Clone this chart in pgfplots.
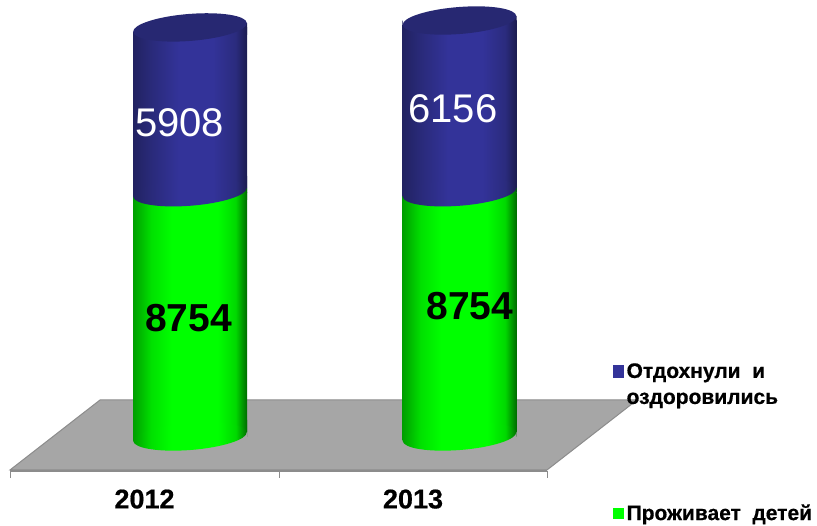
\documentclass[border=0pt]{standalone}
\usepackage{fontspec}
\setmainfont{Liberation Sans}
\newfontfamily\heavy[FakeBold=0.6]{Liberation Sans Bold}
\usepackage{pgfplots}
\pgfplotsset{compat=1.18}
\definecolor{legblue}{HTML}{333399}
\definecolor{leggreen}{HTML}{00FF00}
\definecolor{floorfill}{HTML}{A6A6A6}
\definecolor{flooredge}{HTML}{8C8C8C}
\definecolor{capblue}{HTML}{272872}
\pgfdeclarehorizontalshading{cylgreen}{100bp}{color(0bp)=(green!62!black); color(25bp)=(green!62!black); color(33bp)=(green!88!black); color(42bp)=(green); color(62bp)=(green); color(70bp)=(green!85!black); color(75bp)=(green!42!black); color(100bp)=(green!42!black)}
\pgfdeclarehorizontalshading{cylblue}{100bp}{color(0bp)=(capblue!85!black); color(25bp)=(capblue!85!black); color(33bp)=(capblue!80!legblue); color(45bp)=(legblue); color(60bp)=(legblue); color(70bp)=(capblue!70!legblue); color(75bp)=(capblue!70!black); color(100bp)=(capblue!70!black)}
\pgfplotsset{
  common/.style={
    at={(10pt,55pt)}, anchor=south west,
    scale only axis, width=537pt, height=471pt,
    xmin=10, xmax=547, ymin=-1236.6, ymax=15645,
    clip=false,
    ybar stacked, bar width=114pt,
  },
}
\tikzset{cylend/.style={x radius=57pt, y radius=13.5pt, rotate=4.5}}
% band along the tilted diameter of a cylinder end: {style}{x}{value}{thickness, signed}
\newcommand\tiltband[4]{\path[#1] (axis cs:#2,#3) ++(-57pt,-4.5pt) -- ++(114pt,9pt) -- ++(0pt,#4pt) -- ++(-114pt,-9pt) -- cycle;}
\newcommand\cylinderbands[3]{% x, value at joint, value at top
  \tiltband{fill=floorfill}{#1}{0}{-7}
  \tiltband{shading=cylgreen}{#1}{0}{12}
  \tiltband{shading=cylgreen}{#1}{#2}{-12}
  \tiltband{shading=cylblue}{#1}{#2}{12}
  \tiltband{fill=white}{#1}{#3}{18}
  \tiltband{shading=cylblue}{#1}{#3}{-12}
}
\newcommand\cylinderends[3]{% x, value at joint, value at top
  \path[shading=cylgreen] (axis cs:#1,0) ellipse [cylend];
  \path[shading=cylblue] (axis cs:#1,#2) ellipse [cylend];
  \path[fill=capblue] (axis cs:#1,#3) ellipse [cylend];
}
\begin{document}
\begin{tikzpicture}[x=1pt,y=1pt]
\path[use as bounding box] (0,0) rectangle (817,526);
% floor, axis, legend
\begin{axis}[common,
  axis y line=none, axis x line=bottom,
  axis line style={flooredge, line width=1.6pt, -},
  xtick={144.5,413}, xticklabels={2012,2013},
  major tick length=0pt,
  extra x ticks={10,279,547}, extra x tick labels={},
  extra x tick style={tick style={flooredge, line width=1pt}, major tick length=7pt, tick align=outside},
  xticklabel style={font=\heavy\fontsize{27}{27}\selectfont, yshift=-15pt},
  legend style={at={(axis cs:613,2830)}, anchor=north west, draw=none, fill=none,
    font=\heavy\fontsize{21}{26}\selectfont, row sep=121pt, inner sep=0pt,
    nodes={inner xsep=3pt}},
  legend cell align=left,
]
\addlegendimage{legend image code/.code={\fill[legblue] (0,-8pt) rectangle (10pt,4pt);}}
\addlegendentry{\begin{tabular}[t]{@{}l@{}}Отдохнули\hspace{0.55em}и\\оздоровились\end{tabular}}
\addlegendimage{legend image code/.code={\fill[leggreen] (0,-5pt) rectangle (10pt,5pt);}}
\addlegendentry{Проживает\hspace{0.55em}детей}
\draw[flooredge, line width=1pt, fill=floorfill]
  (axis cs:10,-1200) -- (axis cs:100,1308) -- (axis cs:637,1308) -- (axis cs:547,-1200) -- cycle;
\end{axis}
% 2012
\begin{axis}[common, hide axis]
\addplot+[forget plot, bar shift=0pt, draw=none, shading=cylgreen, shading angle=0]
  coordinates {(190,8754)};
\addplot+[forget plot, bar shift=0pt, draw=none, shading=cylblue, shading angle=0]
  coordinates {(190,5908)};
\end{axis}
% 2013
\begin{axis}[common, hide axis]
\addplot+[forget plot, bar shift=0pt, draw=none, shading=cylgreen, shading angle=0]
  coordinates {(459.5,8754)};
\addplot+[forget plot, bar shift=0pt, draw=none, shading=cylblue, shading angle=0]
  coordinates {(459.5,6156)};
\end{axis}
% tilted joints
\begin{axis}[common, hide axis]
\cylinderbands{190}{8754}{14662}
\cylinderbands{459.5}{8754}{14910}
\end{axis}
% elliptical ends
\begin{axis}[common, hide axis]
\cylinderends{190}{8754}{14662}
\cylinderends{459.5}{8754}{14910}
\end{axis}
% value labels
\begin{axis}[common, hide axis]
\node[white, inner sep=0pt, font=\fontsize{40}{40}\selectfont] at (axis cs:179.5,11237) {5908};
\node[black, inner sep=0pt, font=\bfseries\fontsize{39}{39}\selectfont] at (axis cs:188.5,4247) {8754};
\node[white, inner sep=0pt, font=\fontsize{40}{40}\selectfont] at (axis cs:453,11738) {6156};
\node[black, inner sep=0pt, font=\bfseries\fontsize{39}{39}\selectfont] at (axis cs:470,4677) {8754};
\end{axis}
\end{tikzpicture}
\end{document}
